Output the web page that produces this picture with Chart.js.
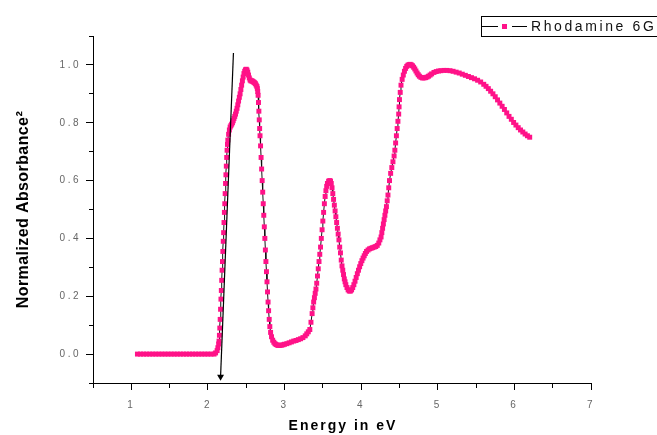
<!DOCTYPE html>
<html>
<head>
<meta charset="utf-8">
<title>Rhodamine 6G absorbance</title>
<script src="https://cdn.jsdelivr.net/npm/chart.js@4.4.1/dist/chart.umd.min.js"></script>
<style>
  html, body { margin: 0; padding: 0; background: #fff; }
  #wrap { width: 657px; height: 435px; }
</style>
</head>
<body>
<div id="wrap"><canvas id="taucChart" width="657" height="435"></canvas></div>
<script>
// photon energy (eV)
var energy = [
    1.08, 1.12, 1.16, 1.20, 1.24, 1.28, 1.32, 1.36, 1.40, 1.44,
    1.48, 1.52, 1.56, 1.60, 1.64, 1.68, 1.72, 1.76, 1.80, 1.84,
    1.88, 1.92, 1.96, 2.00, 2.04, 2.08,
    2.10, 2.12, 2.13, 2.14, 2.145, 2.15, 2.155,
    2.16, 2.165, 2.17, 2.175, 2.18, 2.185, 2.19, 2.195, 2.20, 2.205,
    2.21, 2.215, 2.22, 2.225, 2.23, 2.235, 2.24, 2.245, 2.25, 2.255,
    2.26, 2.27, 2.28, 2.29, 2.30, 2.31, 2.32, 2.33, 2.34, 2.35,
    2.36, 2.37, 2.38, 2.39, 2.40, 2.41, 2.42, 2.43, 2.44, 2.45,
    2.46, 2.47, 2.48, 2.49, 2.50, 2.51, 2.52, 2.53, 2.54, 2.55,
    2.56, 2.57, 2.58, 2.59, 2.60, 2.61, 2.62, 2.63, 2.64, 2.645,
    2.65, 2.655, 2.66, 2.665, 2.67, 2.675, 2.68, 2.687, 2.694, 2.701,
    2.708, 2.715, 2.722, 2.729, 2.736, 2.743, 2.75, 2.757, 2.764, 2.771,
    2.778, 2.785, 2.792, 2.80, 2.808, 2.818, 2.83, 2.845, 2.86, 2.875,
    2.89, 2.905, 2.92, 2.94, 2.96, 2.98, 3.00, 3.03, 3.06, 3.09,
    3.12, 3.15, 3.18, 3.21, 3.24, 3.27, 3.29, 3.31, 3.33, 3.345,
    3.36, 3.37, 3.38, 3.39, 3.40, 3.41, 3.42, 3.43, 3.44, 3.45,
    3.46, 3.47, 3.48, 3.49, 3.50, 3.51, 3.52, 3.53, 3.54, 3.55,
    3.56, 3.575, 3.59, 3.60, 3.61, 3.62, 3.63, 3.64, 3.65, 3.66,
    3.67, 3.68, 3.69, 3.70, 3.71, 3.72, 3.73, 3.74, 3.75, 3.76,
    3.77, 3.78, 3.79, 3.80, 3.815, 3.83, 3.845, 3.86, 3.875, 3.89,
    3.905, 3.92, 3.935, 3.95, 3.965, 3.98, 3.995, 4.01, 4.025, 4.04,
    4.055, 4.07, 4.09, 4.11, 4.13, 4.15, 4.17, 4.19, 4.21, 4.23,
    4.245, 4.26, 4.27, 4.28, 4.29, 4.30, 4.31, 4.32, 4.33, 4.34,
    4.35, 4.36, 4.37, 4.385, 4.40, 4.415, 4.43, 4.44, 4.45, 4.46,
    4.47, 4.48, 4.49, 4.495, 4.50, 4.51, 4.52, 4.535, 4.55, 4.565,
    4.58, 4.595, 4.61, 4.625, 4.64, 4.655, 4.67, 4.685, 4.70, 4.715,
    4.73, 4.745, 4.76, 4.78, 4.80, 4.82, 4.84, 4.86, 4.88, 4.90,
    4.92, 4.95, 4.98, 5.01, 5.04, 5.08, 5.12, 5.16, 5.20, 5.24,
    5.28, 5.32, 5.36, 5.40, 5.44, 5.48, 5.52, 5.56, 5.60, 5.63,
    5.66, 5.69, 5.72, 5.75, 5.78, 5.81, 5.84, 5.87, 5.90, 5.93,
    5.96, 5.99, 6.02, 6.05, 6.08, 6.11, 6.14, 6.17, 6.20
];

// normalized absorbance squared
var absorbance = [
    0, 0, 0, 0, 0, 0, 0, 0, 0, 0,
    0, 0, 0, 0, 0, 0, 0, 0, 0, 0,
    0, 0, 0, 0, 0, 0,
    0.004, 0.012, 0.022, 0.035, 0.045, 0.065, 0.09,
    0.12, 0.155, 0.19, 0.22, 0.255, 0.29, 0.32, 0.355, 0.39, 0.42,
    0.455, 0.49, 0.52, 0.555, 0.59, 0.62, 0.65, 0.68, 0.705, 0.725,
    0.74, 0.76, 0.775, 0.785, 0.79, 0.795, 0.80, 0.807, 0.815, 0.822,
    0.83, 0.84, 0.85, 0.862, 0.875, 0.888, 0.90, 0.915, 0.93, 0.945,
    0.958, 0.97, 0.978, 0.983, 0.985, 0.982, 0.975, 0.965, 0.955, 0.948,
    0.945, 0.945, 0.944, 0.942, 0.94, 0.938, 0.935, 0.93, 0.925, 0.918,
    0.908, 0.895, 0.87, 0.84, 0.81, 0.78, 0.755, 0.72, 0.68, 0.64,
    0.60, 0.56, 0.52, 0.48, 0.44, 0.40, 0.36, 0.32, 0.285, 0.25,
    0.215, 0.18, 0.15, 0.12, 0.095, 0.075, 0.06, 0.048, 0.041, 0.036,
    0.033, 0.031, 0.03, 0.03, 0.031, 0.032, 0.034, 0.036, 0.039, 0.042,
    0.045, 0.047, 0.05, 0.053, 0.057, 0.063, 0.07, 0.077, 0.085, 0.11,
    0.14, 0.16, 0.18, 0.195, 0.21, 0.225, 0.245, 0.27, 0.295, 0.32,
    0.345, 0.37, 0.40, 0.43, 0.46, 0.49, 0.52, 0.545, 0.565, 0.58,
    0.59, 0.598, 0.60, 0.598, 0.59, 0.575, 0.555, 0.535, 0.515, 0.495,
    0.475, 0.455, 0.435, 0.415, 0.395, 0.37, 0.35, 0.325, 0.305, 0.29,
    0.275, 0.26, 0.25, 0.24, 0.23, 0.222, 0.218, 0.218, 0.222, 0.23,
    0.24, 0.252, 0.265, 0.278, 0.29, 0.302, 0.313, 0.323, 0.332, 0.34,
    0.348, 0.355, 0.36, 0.364, 0.366, 0.368, 0.37, 0.372, 0.376, 0.384,
    0.395, 0.405, 0.42, 0.435, 0.45, 0.465, 0.48, 0.495, 0.51, 0.53,
    0.55, 0.575, 0.60, 0.625, 0.645, 0.665, 0.685, 0.705, 0.73, 0.755,
    0.78, 0.805, 0.83, 0.855, 0.88, 0.905, 0.93, 0.95, 0.965, 0.978,
    0.988, 0.995, 0.999, 1.001, 1.002, 1.0, 0.997, 0.992, 0.986, 0.979,
    0.972, 0.966, 0.961, 0.957, 0.955, 0.955, 0.956, 0.958, 0.961, 0.965,
    0.969, 0.974, 0.977, 0.979, 0.98, 0.981, 0.981, 0.98, 0.978, 0.975,
    0.972, 0.968, 0.964, 0.96, 0.956, 0.952, 0.947, 0.941, 0.933, 0.926,
    0.918, 0.909, 0.90, 0.89, 0.879, 0.868, 0.857, 0.846, 0.834, 0.822,
    0.812, 0.801, 0.792, 0.783, 0.775, 0.768, 0.761, 0.755, 0.75
];

// tangent drawn along the absorption edge, arrow end first
var edgeX = [2.165, 2.333];
var edgeY = [-0.078, 1.041];

var xLabels = [1, 2, 3, 4, 5, 6, 7];
var yLabels = [0.0, 0.2, 0.4, 0.6, 0.8, 1.0];

var seriesName = 'Rhodamine 6G';
var xTitle = 'Energy in eV';
var yTitle = 'Normalized Absorbance\u00B2';

var pink = '#FF1288';
var fontFamily = '"Liberation Sans", Arial, sans-serif';

function isLabelled(list, v) {
    return list.some(function (t) { return Math.abs(t - v) < 1e-6; });
}

// titles and the boxed legend, drawn on top of the chart
var overlay = {
    id: 'overlay',
    beforeDraw: function (chart) {
        chart.ctx.letterSpacing = '2.5px';  // wide tick numbers
    },
    afterDraw: function (chart) {
        var ctx = chart.ctx;
        var area = chart.chartArea;

        ctx.save();
        ctx.fillStyle = '#000';
        ctx.textAlign = 'center';
        ctx.textBaseline = 'middle';
        ctx.letterSpacing = '2px';
        ctx.font = 'bold 14px ' + fontFamily;
        ctx.fillText(xTitle, (area.left + area.right) / 2 + 1, 426);

        ctx.letterSpacing = '0.4px';
        ctx.font = 'bold 16px ' + fontFamily;
        ctx.translate(24, (area.top + area.bottom) / 2);
        ctx.rotate(-Math.PI / 2);
        ctx.fillText(yTitle, 0, 0);
        ctx.restore();

        // legend box
        ctx.save();
        ctx.strokeStyle = '#000';
        ctx.lineWidth = 1;
        ctx.strokeRect(481.5, 16.5, 220, 20);
        ctx.beginPath();
        ctx.moveTo(482, 26.5);
        ctx.lineTo(498, 26.5);
        ctx.moveTo(512, 26.5);
        ctx.lineTo(527, 26.5);
        ctx.stroke();
        ctx.fillStyle = pink;
        ctx.fillRect(502, 24, 5, 5);
        ctx.fillStyle = '#111';
        ctx.letterSpacing = '2.6px';
        ctx.font = '14px ' + fontFamily;
        ctx.textAlign = 'left';
        ctx.textBaseline = 'middle';
        ctx.fillText(seriesName, 531, 27);
        ctx.restore();
    }
};

var ctx = document.getElementById('taucChart').getContext('2d');

var taucChart = new Chart(ctx, {
    type: 'scatter',
    data: {
        datasets: [{
            label: 'edge',
            data: edgeX.map(function (x, i) { return { x: x, y: edgeY[i] }; }),
            showLine: true,
            borderColor: '#000',
            borderWidth: 1.2,
            pointStyle: 'triangle',
            rotation: 180,
            pointRadius: [4, 0],
            pointBackgroundColor: '#000',
            pointBorderWidth: 0,
            order: 0
        }, {
            label: seriesName,
            data: energy.map(function (x, i) { return { x: x, y: absorbance[i] }; }),
            showLine: true,
            borderColor: '#111',
            borderWidth: 1,
            pointStyle: 'rect',
            pointRadius: 3.5,
            pointBackgroundColor: pink,
            pointBorderWidth: 0,
            order: 1
        }]
    },
    options: {
        responsive: false,
        animation: false,
        events: [],
        layout: { padding: { top: 36, right: 66, left: 0, bottom: 0 } },
        plugins: {
            legend: { display: false },
            tooltip: { enabled: false }
        },
        scales: {
            x: {
                type: 'linear',
                min: 0.5,
                max: 7,
                afterFit: function (scale) { scale.height = 52; },
                border: { display: true, color: '#000', width: 1 },
                grid: {
                    drawOnChartArea: false,
                    drawTicks: true,
                    tickLength: 7,
                    tickColor: '#000',
                    // short minor ticks: only the part next to the axis
                    tickBorderDash: function (c) {
                        return isLabelled(xLabels, c.tick.value) ? [] : [4, 20];
                    }
                },
                ticks: {
                    stepSize: 0.5,
                    autoSkip: false,
                    maxRotation: 0,
                    padding: 9,
                    color: '#666',
                    font: { family: fontFamily, size: 10 },
                    callback: function (v) { return isLabelled(xLabels, v) ? String(v) : ''; }
                }
            },
            y: {
                min: -0.1,
                max: 1.1,
                afterFit: function (scale) { scale.width = 93; },
                border: { display: true, color: '#000', width: 1 },
                grid: {
                    drawOnChartArea: false,
                    drawTicks: true,
                    tickLength: 7,
                    tickColor: '#000',
                    tickBorderDash: function (c) {
                        return isLabelled(yLabels, c.tick.value) ? [] : [0, 3, 4, 20];
                    }
                },
                ticks: {
                    stepSize: 0.1,
                    padding: 5,
                    color: '#666',
                    font: { family: fontFamily, size: 10 },
                    callback: function (v) { return isLabelled(yLabels, v) ? v.toFixed(1) : ''; }
                }
            }
        }
    },
    plugins: [overlay]
});
</script>
</body>
</html>
